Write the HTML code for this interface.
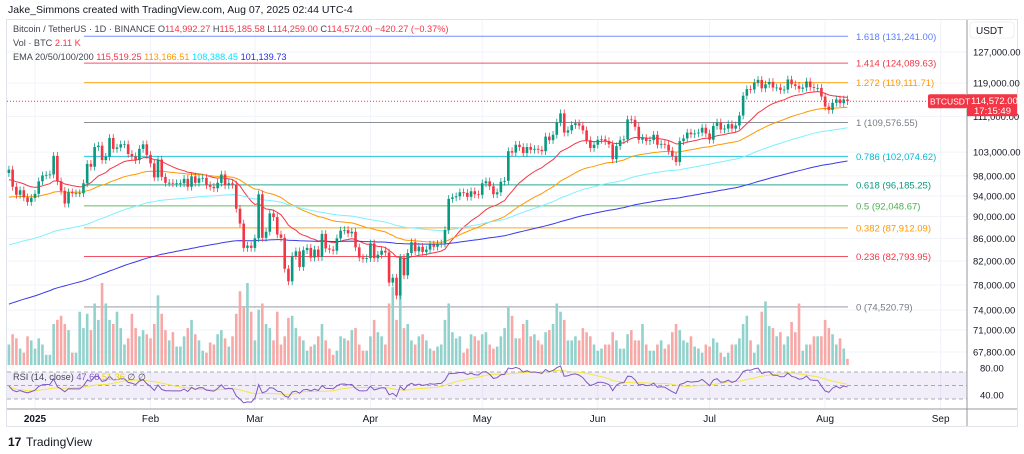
<!DOCTYPE html>
<html><head><meta charset="utf-8">
<style>
body{margin:0;background:#fff;font-family:"Liberation Sans",sans-serif;}
svg{display:block}
text{font-family:"Liberation Sans",sans-serif;}
</style></head>
<body>
<svg id="c" width="1024" height="454" viewBox="0 0 1024 454" xmlns="http://www.w3.org/2000/svg">
<rect x="0" y="0" width="1024" height="454" fill="#fff"/>
<text x="8" y="13" font-size="10.5" fill="#131722">Jake_Simmons created with TradingView.com, Aug 07, 2025 02:44 UTC-4</text>
<rect x="6.5" y="19.5" width="1011" height="407" fill="none" stroke="#e0e3eb"/>
<g id="grid"></g>
<g id="fib"></g>
<g id="ema"></g>
<g id="vol"></g>
<g id="candles"></g>
<g id="rsi"></g>
<g id="axis"></g>
<g id="taxis"></g>
<g font-size="9.2">
<text x="13" y="32" fill="#434651">Bitcoin / TetherUS · 1D · BINANCE <tspan fill="#434651">O</tspan><tspan fill="#f23645">114,992.27</tspan> <tspan fill="#434651">H</tspan><tspan fill="#f23645">115,185.58</tspan> <tspan fill="#434651">L</tspan><tspan fill="#f23645">114,259.00</tspan> <tspan fill="#434651">C</tspan><tspan fill="#f23645">114,572.00 −420.27 (−0.37%)</tspan></text>
<text x="13" y="46" fill="#434651">Vol · BTC <tspan fill="#f23645">2.11 K</tspan></text>
<text x="13" y="60" fill="#434651">EMA 20/50/100/200 <tspan fill="#f23645">115,519.25</tspan> <tspan fill="#ff9800">113,166.51</tspan> <tspan fill="#00e5ff">108,388.45</tspan> <tspan fill="#2a2ee0">101,139.73</tspan></text>
<text x="13" y="380" fill="#434651">RSI (14, close) <tspan fill="#7e57c2">47.68</tspan> <tspan fill="#e6d000">51.36</tspan> ∅ ∅</text>
</g>
<g>
<text x="8" y="446" font-size="12" font-weight="bold" fill="#131722">17</text>
<text x="26" y="446" font-size="12" fill="#131722">TradingView</text>
</g>
</svg>
<script>
// daily closes (thousands USDT), Dec 25 2024 -> Aug 7 2025
const closes=[
99.3,95.8,94.2,95.1,93.7,92.8,93.6,
94.4,96.9,98.1,98.2,98.3,102.2,96.9,95.0,92.5,94.7,94.5,94.5,94.5,96.5,100.5,99.9,104.1,104.4,101.3,102.0,106.1,103.7,104.0,104.7,104.7,102.6,102.1,101.3,103.7,104.7,102.4,
100.6,97.7,101.4,97.8,96.6,96.6,96.5,96.5,96.5,97.4,95.8,97.9,96.6,97.5,97.6,96.1,95.8,95.5,96.6,98.3,96.1,96.5,96.2,91.5,88.7,84.3,84.7,84.3,
86.0,94.3,86.1,87.2,90.6,89.9,86.7,86.1,80.7,78.6,82.9,83.7,81.0,83.9,84.3,82.6,84.0,82.7,86.8,84.2,84.0,83.8,86.0,87.4,87.5,86.9,87.2,84.4,82.6,82.4,82.5,
85.1,82.5,83.1,83.8,83.5,78.4,79.2,76.3,82.6,79.6,83.4,85.3,83.7,84.5,83.6,84.0,84.9,84.5,85.0,85.1,87.5,93.4,93.7,93.9,94.7,94.6,93.8,94.9,94.3,94.2,
96.5,96.9,95.9,94.3,94.7,96.8,97.0,103.2,102.9,104.6,104.1,102.8,104.1,103.5,103.7,103.5,103.2,106.4,105.6,106.8,109.6,111.7,107.3,107.8,109.0,109.4,108.9,107.8,105.6,103.9,104.6,
105.7,105.8,105.4,104.7,101.5,104.3,105.6,105.8,110.3,110.2,108.6,105.7,106.1,105.4,105.6,106.8,104.6,104.8,104.6,103.3,102.1,100.9,105.4,106.0,107.3,106.9,107.1,107.3,108.4,107.1,
105.7,108.8,109.6,108.0,108.2,109.2,108.2,108.9,111.2,115.9,117.5,117.4,119.1,119.8,117.7,118.7,119.3,117.9,117.9,117.3,117.4,119.9,118.7,118.3,117.6,117.9,119.4,118.0,117.8,117.8,115.7,
113.3,112.5,114.2,115.0,114.1,115.0,114.6];
// daily volume (thousand BTC)
const volumes=[
10,15,13,8,6,14,12,
8,13,10,5,5,20,22,24,20,17,6,6,26,18,25,17,30,22,40,30,22,20,26,18,10,13,25,18,14,17,15,
13,20,34,25,17,12,16,9,9,14,18,22,15,12,7,6,11,10,15,17,13,9,14,25,36,28,40,26,
12,27,30,20,18,12,26,10,14,23,24,18,14,12,7,9,10,14,20,12,8,5,7,14,13,12,17,18,10,7,7,
14,22,16,14,10,30,38,22,36,18,20,12,10,14,15,12,8,7,9,10,22,30,16,13,14,6,8,15,14,12,
15,16,10,8,9,14,18,28,24,13,13,20,22,14,15,12,10,16,17,20,30,26,22,12,12,14,12,18,16,14,10,
7,8,10,10,16,12,8,8,15,17,12,12,20,10,7,7,10,12,8,10,16,20,17,12,11,14,9,8,6,10,
9,13,11,6,4,6,10,10,13,20,24,12,6,10,26,31,19,18,14,16,10,14,21,16,30,7,10,10,14,14,14,
22,18,15,10,13,8,3];
const firstOpen=98.6;
const emaPeriods=[20,50,100,200];
const emaSeeds=[97,93.5,84.5,74.7];
const emaColors=['#f23645','#ff9800','#7ff0ff','#3a3ae8'];
const priceTicks=[127000,119000,111000,103000,98000,94000,90000,86000,82000,78000,74000,71000,67800];
const fibLevels=['1.618','1.414','1.272','1','0.786','0.618','0.5','0.382','0.236','0'];
const fibPrices=[131241.00,124089.63,119111.71,109576.55,102074.62,96185.25,92048.67,87912.09,82793.95,74520.79];
const fibColors=['#5b7cfa','#f23645','#ff9800','#787b86','#00bcd4','#089981','#4caf50','#ff9800','#f23645','#787b86'];
const monthLabels=['2025','Feb','Mar','Apr','May','Jun','Jul','Aug','Sep'];
const monthDayIdx=[7,38,66,97,127,158,188,219,250];
const rsiTicks=[80,40];

const NS='http://www.w3.org/2000/svg';
function el(p,t,a){const e=document.createElementNS(NS,t);for(const k in a)e.setAttribute(k,a[k]);p.appendChild(e);return e;}
const X=i=>35+(i-7)*3.727;
const Y=p=>52+(Math.log(127000)-Math.log(p))*478;
const VY=v=>365-v*2.05;
const RY=v=>372+(70-v)*27/40;
const fmt=n=>n.toLocaleString('en-US',{minimumFractionDigits:2,maximumFractionDigits:2});
const G=id=>document.getElementById(id);

// grid
monthDayIdx.forEach(i=>{const l=el(G('grid'),'line',{x1:X(i),x2:X(i),y1:20,y2:409,stroke:'#f0f3fa'});

});
priceTicks.forEach(p=>{const l=el(G('grid'),'line',{x1:7,x2:967,y1:Y(p),y2:Y(p),stroke:'#f0f3fa'});

});

// fib
fibPrices.forEach((p,k)=>{const y=Y(p);
const l=el(G('fib'),'line',{x1:84,x2:848,y1:y,y2:y,stroke:fibColors[k],'stroke-width':k==9?1.5:1,opacity:k==9?0.5:0.85});


const t=el(G('fib'),'text',{x:856,y:y+3.5,'font-size':9.5,fill:fibColors[k]});t.textContent=fibLevels[k]+' ('+fmt(p)+')';

});

// volume + candles
let prev=firstOpen;
closes.forEach((c,i)=>{const o=prev;prev=c;const up=c>=o;const x=X(i);
const v=el(G('vol'),'rect',{x:x-1.3,y:VY(volumes[i]),width:2.6,height:365-VY(volumes[i]),fill:up?'#92d2cc':'#f7a9a7'});


const hi=Math.max(o,c)*1.008,lo=Math.min(o,c)*0.992;const col=up?'#089981':'#f23645';
const w=el(G('candles'),'line',{x1:x,x2:x,y1:Y(hi*1000),y2:Y(lo*1000),stroke:col,'stroke-width':0.8});


const yt=Y(Math.max(o,c)*1000),yb=Y(Math.min(o,c)*1000);
const b=el(G('candles'),'rect',{x:x-1.3,y:yt,width:2.6,height:Math.max(0.8,yb-yt),fill:col});

});

// EMAs
emaPeriods.forEach((n,k)=>{let e=emaSeeds[k];const a=2/(n+1);const pts=[];
closes.forEach((c,i)=>{e=e+a*(c-e);pts.push(X(i).toFixed(1)+','+Y(e*1000).toFixed(1));});
const pl=el(G('ema'),'polyline',{points:pts.join(' '),fill:'none',stroke:emaColors[k],'stroke-width':1});

});

// current price line
const cp=el(G('candles'),'line',{x1:7,x2:967,y1:Y(114572),y2:Y(114572),stroke:'#f23645','stroke-dasharray':'1 2','stroke-width':1});



// RSI
const R=G('rsi');
const bg=el(R,'rect',{x:7,y:RY(70),width:960,height:RY(30)-RY(70),fill:'#7e57c2',opacity:0.1});


[70,50,30].forEach(v=>{const l=el(R,'line',{x1:7,x2:967,y1:RY(v),y2:RY(v),stroke:'#9598a1','stroke-dasharray':'4 3','stroke-width':1,opacity:0.8});

});
let ag=1.0,al=1.1,pc=firstOpen;const rsi=[];
closes.forEach(c=>{const d=c-pc;pc=c;ag=(ag*13+Math.max(d,0))/14;al=(al*13+Math.max(-d,0))/14;rsi.push(100-100/(1+ag/al));});
const sig=rsi.map((_,i)=>{const s=rsi.slice(Math.max(0,i-13),i+1);return s.reduce((a,b)=>a+b,0)/s.length;});
const sl=el(R,'polyline',{points:sig.map((v,i)=>X(i).toFixed(1)+','+RY(v).toFixed(1)).join(' '),fill:'none',stroke:'#f5e642','stroke-width':1});


const rl=el(R,'polyline',{points:rsi.map((v,i)=>X(i).toFixed(1)+','+RY(v).toFixed(1)).join(' '),fill:'none',stroke:'#7e57c2','stroke-width':1});


const sep=el(R,'line',{x1:7,x2:1017,y1:409,y2:409,stroke:'#9598a1','stroke-width':1});



// price axis
const A=G('axis');
const ax=el(A,'line',{x1:967,x2:967,y1:20,y2:426,stroke:'#9598a1','stroke-width':1});


const ub=el(A,'rect',{x:970,y:22,width:44,height:16,rx:3,fill:'#fff',stroke:'#eef0f4'});


const ut=el(A,'text',{x:976,y:34,'font-size':10,fill:'#131722'});ut.textContent='USDT';


priceTicks.forEach(p=>{const t=el(A,'text',{x:973,y:Y(p)+3.5,'font-size':9.5,fill:'#131722'});t.textContent=fmt(p);

});
rsiTicks.forEach(v=>{const t=el(A,'text',{x:980,y:RY(v)+6,'font-size':9.5,fill:'#131722'});t.textContent=v.toFixed(2);

});
const pl2=el(A,'rect',{x:967,y:Y(114572)-7,width:50,height:22,fill:'#f23645'});


const pt1=el(A,'text',{x:971,y:Y(114572)+3,'font-size':9.5,fill:'#fff'});pt1.textContent='114,572.00';


const pt2=el(A,'text',{x:974,y:Y(114572)+13,'font-size':9.5,fill:'#fff'});pt2.textContent='17:15:49';


const sb=el(A,'rect',{x:928,y:Y(114572)-7,width:39,height:14,rx:2,fill:'#f23645'});


const st=el(A,'text',{x:930,y:Y(114572)+3.5,'font-size':8.5,fill:'#fff'});st.textContent='BTCUSDT';



// time axis
monthLabels.forEach((m,k)=>{const t=el(G('taxis'),'text',{x:X(monthDayIdx[k]),y:422,'font-size':10,fill:'#131722','text-anchor':'middle','font-weight':k==0?'bold':'normal'});t.textContent=m;

});
</script>
</body></html>
